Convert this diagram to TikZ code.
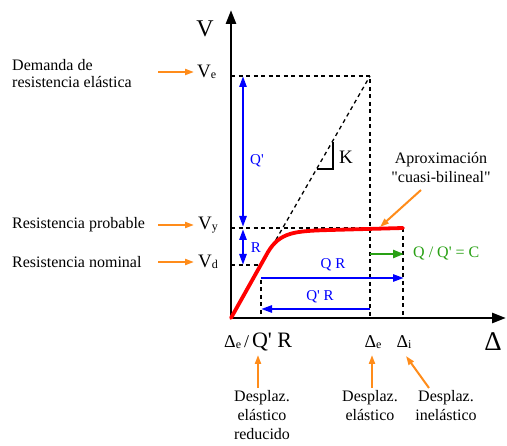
\documentclass[tikz,border=0pt]{standalone}
\usepackage{fontspec}
\setmainfont{Liberation Serif}
\usetikzlibrary{arrows.meta}
\definecolor{orng}{RGB}{255,140,26}
\definecolor{grn}{RGB}{40,160,20}
\newcommand\lowsub[1]{\raisebox{-1.5pt}{\fontsize{12}{12}\selectfont #1}}
\newcommand\sq{\textquotesingle}
\begin{document}
\begin{tikzpicture}[x=1pt,y=-1pt,
  lbl/.style={font=\fontsize{16}{17}\selectfont, inner sep=0pt},
  vlbl/.style={font=\fontsize{19}{19}\selectfont, inner sep=0pt, anchor=west},
  blbl/.style={font=\fontsize{15}{15}\selectfont, inner sep=0pt, text=blue},
  dashln/.style={line width=1.3pt, dash pattern=on 4pt off 3.5pt},
  axisln/.style={line width=2.8pt, -{Triangle[length=14pt,width=10pt]}},
  bluearr/.style={blue, line width=2.5pt, -{Triangle[length=11pt,width=7pt]}},
  bluedbl/.style={blue, line width=2.5pt, {Triangle[length=11pt,width=7pt]}-{Triangle[length=11pt,width=7pt]}},
  orarr/.style={orng, line width=2pt, -{Triangle[length=9pt,width=6pt]}},
]
\useasboundingbox (0,0) rectangle (507,446);
% key points
\coordinate (O) at (231,318);
\coordinate (Ytop) at (231,10);
\coordinate (Xend) at (506,318);
\coordinate (VeA) at (231,76);
\coordinate (VeE) at (370,76);
\coordinate (DeB) at (370,318);
\coordinate (VyA) at (231,228);
\coordinate (VyE) at (403,228);
\coordinate (DiB) at (403,318);
\coordinate (VdA) at (231,265);
\coordinate (VdE) at (262,265);
\coordinate (RdT) at (261,280);
\coordinate (RdB) at (261,318);
% dashed guides
\draw[dashln] (VeA) -- (VeE) -- (DeB);
\draw[dashln] (O) -- (VeE);
\draw[dashln] (VyA) -- (VyE) -- (DiB);
\draw[dashln] (VdA) -- (VdE);
\draw[dashln] (RdT) -- (RdB);
% K triangle
\coordinate (K1) at (333,142);
\coordinate (K2) at (333,169);
\coordinate (K3) at (317,169);
\draw[line width=1.3pt] (K1) -- (K2) -- (K3);
\node[font=\fontsize{19}{19}\selectfont, inner sep=0pt] (K) at (346,157) {K};
% axes
\draw[axisln] (O) -- (Ytop);
\draw[axisln] (O) -- (Xend);
% red curve
\draw[red, line width=3.8pt, line cap=round] (O) -- (268,252) .. controls (280,232) and (295,231) .. (330,230) -- (VyE);
% blue arrows
\coordinate (Qa) at (243,76);
\coordinate (Qb) at (243,227);
\coordinate (Ra) at (243,229);
\coordinate (Rb) at (243,265);
\draw[bluedbl] (Qb) -- (Qa);
\draw[bluedbl] (Ra) -- (Rb);
\node[blbl] (lQp) at (257,161) {Q\sq};
\node[blbl] (lR) at (256,248) {R};
\coordinate (QRa) at (261,278);
\coordinate (QRb) at (404,278);
\draw[bluearr] (QRa) -- (QRb);
\node[blbl] (lQR) at (333,265) {Q R};
\coordinate (QpRa) at (370,309);
\coordinate (QpRb) at (261,309);
\draw[bluearr] (QpRa) -- (QpRb);
\node[blbl] (lQpR) at (320,297) {Q\sq{} R};
% green arrow
\coordinate (Ga) at (370,254);
\coordinate (Gb) at (404,254);
\draw[grn, line width=2.5pt, -{Triangle[length=11pt,width=8pt]}] (Ga) -- (Gb);
\node[font=\fontsize{16}{16}\selectfont, inner sep=0pt, text=grn, anchor=west] (lC) at (413,254) {Q / Q\sq{} = C};
% V labels
\node[font=\fontsize{24}{24}\selectfont, inner sep=0pt] (V) at (205,29) {V};
\node[vlbl] (Ve) at (197,72) {V\lowsub{e}};
\node[vlbl] (Vy) at (198,225) {V\lowsub{y}};
\node[vlbl] (Vd) at (198,262) {V\lowsub{d}};
% left texts
\node[lbl, align=left, anchor=west] (tDem) at (12,73.5) {Demanda de\\resistencia elástica};
\node[lbl, anchor=west] (tProb) at (12,225) {Resistencia probable};
\node[lbl, anchor=west] (tNom) at (12,262) {Resistencia nominal};
\coordinate (a1) at (158,72); \coordinate (b1) at (194,72);
\coordinate (a2) at (158,225); \coordinate (b2) at (194,225);
\coordinate (a3) at (158,262); \coordinate (b3) at (194,262);
\draw[orarr] (a1) -- (b1);
\draw[orarr] (a2) -- (b2);
\draw[orarr] (a3) -- (b3);
% aproximacion
\node[lbl, align=center, font=\fontsize{16}{19}\selectfont] (tAp) at (441,168) {Aproximación\\\textquotedbl cuasi-bilineal\textquotedbl};
\coordinate (ap1) at (421,190); \coordinate (ap2) at (380,227);
\draw[orarr] (ap1) -- (ap2);
% bottom labels
\node[inner sep=0pt, anchor=west] (lDeQ) at (224,342) {\fontsize{18}{18}\selectfont Δ\lowsub{e}\,/\,\fontsize{22}{22}\selectfont Q\sq{} R};
\node[inner sep=0pt] (lDe) at (373,342) {\fontsize{18}{18}\selectfont Δ\lowsub{e}};
\node[inner sep=0pt] (lDi) at (404,342) {\fontsize{18}{18}\selectfont Δ\lowsub{i}};
\node[inner sep=0pt] (lD) at (493,342) {\fontsize{27}{27}\selectfont Δ};
% bottom texts
\node[lbl, align=center, font=\fontsize{16}{19}\selectfont, anchor=north] (tRed) at (262,390) {Desplaz.\\elástico\\reducido};
\node[lbl, align=center, font=\fontsize{16}{19}\selectfont, anchor=north] (tEl) at (370,390) {Desplaz.\\elástico};
\node[lbl, align=center, font=\fontsize{16}{19}\selectfont, anchor=north] (tIn) at (446,390) {Desplaz.\\inelástico};
\coordinate (u1) at (258,388); \coordinate (v1) at (258,355);
\coordinate (u2) at (372,388); \coordinate (v2) at (372,355);
\coordinate (u3) at (429,388); \coordinate (v3) at (406,356);
\draw[orarr] (u1) -- (v1);
\draw[orarr] (u2) -- (v2);
\draw[orarr] (u3) -- (v3);
\end{tikzpicture}
\end{document}
